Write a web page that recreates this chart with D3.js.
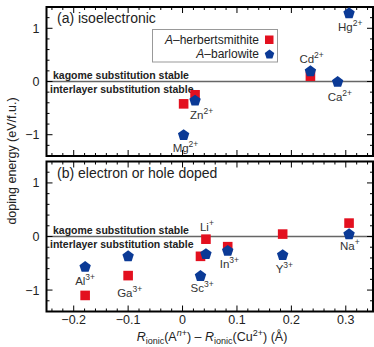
<!DOCTYPE html>
<html>
<head>
<meta charset="utf-8">
<script src="https://cdn.jsdelivr.net/npm/d3@7"></script>
<style>
    body { margin: 0; background: #fff; }
    svg { font-family: "Liberation Sans", Arial, sans-serif; }
</style>
</head>
<body>
<svg id="chart" width="374" height="347"></svg>
<script>
// Panel (a): isoelectronic substitutions
const isoIons = ["Mg", "Zn", "Cd", "Ca", "Hg"];
const isoCharge = ["2+", "2+", "2+", "2+", "2+"];
const isoRadius = [0.002, 0.023, 0.235, 0.285, 0.306];
const isoHerbert = [-0.42, -0.25, 0.10, null, null];
const isoBarlow = [-1.00, -0.35, 0.20, 0.00, 1.29];

// Panel (b): electron or hole doped substitutions
const dopedIons = ["Al", "Ga", "Sc", "Li", "In", "Y", "Na"];
const dopedCharge = ["3+", "3+", "3+", "+", "3+", "3+", "+"];
const dopedRadius = [-0.179, -0.100, 0.033, 0.043, 0.083, 0.184, 0.306];
const dopedHerbert = [-1.10, -0.73, -0.37, -0.05, -0.19, 0.045, 0.25];
const dopedBarlow = [-0.56, -0.36, -0.73, -0.32, -0.26, -0.34, 0.05];

const xTicks = [-0.2, -0.1, 0, 0.1, 0.2, 0.3];
const yTicks = [-1, 0, 1];

const chart = (function () {
    "use strict";

    const svg = d3.select("#chart");
    const left = 46.5, right = 373;
    const red = "#e3101f", blue = "#0b3a96", ink = "#222";

    const x = d3.scaleLinear().domain([-0.25, 0.35]).range([left, right]);

    // where each ion label sits relative to its marker: [dx, dy]
    const labelOffset = {
        Hg: [-11, 18], Cd: [-11, -8], Ca: [-10, 19], Zn: [-5, 19], Mg: [-11, 17],
        Li: [-6, -8], Al: [-10, 18], Ga: [-11, 21], Sc: [-10, 16], In: [-8, 18],
        Y: [-7, 18], Na: [-9, 16]
    };

    function pentagon(r) {
        const pts = d3.range(5).map(i => {
            const a = -Math.PI / 2 + i * 2 * Math.PI / 5;
            return [r * Math.cos(a), r * Math.sin(a)];
        });
        return "M" + pts.join("L") + "Z";
    }

    function fmt(d) {
        return d === 0 ? "0" : (d < 0 ? "\u2212" : "") + Math.abs(d);
    }

    /**
     * Draw one framed panel with its points and annotations.
     */
    function panel(top, bottom, title, ions, charge, radius, herbert, barlow, lead) {
        const y = d3.scaleLinear().domain([-1.4, 1.4]).range([bottom, top]);
        const g = svg.append("g");

        // zero line
        g.append("line")
            .attr("x1", left).attr("x2", right)
            .attr("y1", y(0)).attr("y2", y(0))
            .attr("stroke", "#666").attr("stroke-width", 1.5);

        // ticks on all four sides, pointing inward
        const xMinor = d3.range(-0.24, 0.35, 0.02);
        const yMinor = d3.range(-1.4, 1.41, 0.2);
        const tickG = g.append("g").attr("stroke", "#000").attr("stroke-width", 1);
        xMinor.forEach(v => {
            const major = xTicks.some(t => Math.abs(t - v) < 1e-6);
            const len = major ? 6 : 3;
            tickG.append("line").attr("x1", x(v)).attr("x2", x(v))
                .attr("y1", bottom).attr("y2", bottom - len);
            tickG.append("line").attr("x1", x(v)).attr("x2", x(v))
                .attr("y1", top).attr("y2", top + len);
        });
        yMinor.forEach(v => {
            const major = yTicks.some(t => Math.abs(t - v) < 1e-6);
            const len = major ? 6 : 3;
            tickG.append("line").attr("y1", y(v)).attr("y2", y(v))
                .attr("x1", left).attr("x2", left + len);
            tickG.append("line").attr("y1", y(v)).attr("y2", y(v))
                .attr("x1", right).attr("x2", right - len);
        });

        const yAxis = d3.axisLeft(y).tickValues(yTicks).tickSize(0).tickPadding(7)
            .tickFormat(fmt);
        g.append("g").attr("transform", `translate(${left},0)`).call(yAxis)
            .call(a => a.select(".domain").remove())
            .call(a => a.selectAll("text").attr("font-size", 12.5).attr("fill", ink)
                .attr("font-family", "Liberation Sans, Arial, sans-serif"));

        // frame
        g.append("rect")
            .attr("x", left).attr("y", top)
            .attr("width", right - left).attr("height", bottom - top)
            .attr("fill", "none").attr("stroke", "#000").attr("stroke-width", 2);

        g.append("text").attr("x", 57).attr("y", top + 16)
            .attr("font-size", 14).attr("fill", ink).text(title);

        g.append("text").attr("x", 53).attr("y", y(0) - 3)
            .attr("font-size", 10.5).attr("font-weight", "bold").attr("fill", ink)
            .text("kagome substitution stable");
        g.append("text").attr("x", 50).attr("y", y(0) + 11.5)
            .attr("font-size", 10.5).attr("font-weight", "bold").attr("fill", ink)
            .text("interlayer substitution stable");

        const idx = d3.range(ions.length);
        g.append("g").selectAll("rect")
            .data(idx.filter(i => herbert[i] !== null))
            .join("rect")
            .attr("x", i => x(radius[i]) - 4.8).attr("y", i => y(herbert[i]) - 4.8)
            .attr("width", 9.6).attr("height", 9.6).attr("fill", red);
        g.append("g").selectAll("path")
            .data(idx)
            .join("path")
            .attr("transform", i => `translate(${x(radius[i])},${y(barlow[i]) + 0.5})`)
            .attr("d", pentagon(6)).attr("fill", blue);

        // ion labels
        g.append("g").selectAll("text")
            .data(idx)
            .join("text")
            .attr("x", i => x(radius[i]) + labelOffset[ions[i]][0])
            .attr("y", i => {
                const anchorY = lead[i] === "up" ? herbert[i] : barlow[i];
                return y(anchorY) + labelOffset[ions[i]][1];
            })
            .attr("font-size", 11.5).attr("fill", "#333")
            .each(function (i) {
                const t = d3.select(this);
                t.append("tspan").text(ions[i]);
                t.append("tspan").attr("dy", -5).attr("font-size", 8.5).text(charge[i]);
            });

        return y;
    }

    function init() {
        panel(7, 156, "(a) isoelectronic", isoIons, isoCharge, isoRadius, isoHerbert, isoBarlow,
            ["", "", "", "", ""]);
        panel(161.5, 311.5, "(b) electron or hole doped", dopedIons, dopedCharge, dopedRadius,
            dopedHerbert, dopedBarlow, ["", "up", "", "up", "", "", ""]);

        // x tick labels
        svg.append("g").selectAll("text")
            .data(xTicks)
            .join("text")
            .attr("x", d => x(d)).attr("y", 324)
            .attr("text-anchor", "middle").attr("font-size", 12.5).attr("fill", ink)
            .text(fmt);

        // legend
        const lg = svg.append("g");
        lg.append("rect").attr("x", 152.5).attr("y", 29.5).attr("width", 125).attr("height", 32.5)
            .attr("fill", "#fff").attr("stroke", "#999").attr("stroke-width", 1);
        const entries = [["herbertsmithite", "sq"], ["barlowite", "pent"]];
        entries.forEach((e, k) => {
            const yy = 44 + k * 14;
            const t = lg.append("text").attr("x", 259).attr("y", yy)
                .attr("text-anchor", "end").attr("font-size", 12).attr("fill", ink);
            t.append("tspan").attr("font-style", "italic").text("A");
            t.append("tspan").text("\u2013" + e[0]);
            if (e[1] === "sq") {
                lg.append("rect").attr("x", 265).attr("y", yy - 8.5)
                    .attr("width", 8.5).attr("height", 8.5).attr("fill", red);
            } else {
                lg.append("path").attr("transform", `translate(269.5,${yy - 3.5})`)
                    .attr("d", pentagon(5)).attr("fill", blue);
            }
        });

        // axis titles
        svg.append("text")
            .attr("transform", "translate(16,161) rotate(-90)")
            .attr("text-anchor", "middle").attr("font-size", 12.5).attr("fill", ink)
            .text("doping energy (eV/f.u.)");

        const xl = svg.append("text").attr("x", 212).attr("y", 340.5)
            .attr("text-anchor", "middle").attr("font-size", 12.5).attr("fill", ink);
        xl.append("tspan").attr("font-style", "italic").text("R");
        xl.append("tspan").attr("dy", 3).attr("font-size", 9).text("ionic");
        xl.append("tspan").attr("dy", -3).text("(A");
        xl.append("tspan").attr("dy", -5).attr("font-size", 9).attr("font-style", "italic").text("n");
        xl.append("tspan").attr("font-size", 9).text("+");
        xl.append("tspan").attr("dy", 5).text(") \u2013 ");
        xl.append("tspan").attr("font-style", "italic").text("R");
        xl.append("tspan").attr("dy", 3).attr("font-size", 9).text("ionic");
        xl.append("tspan").attr("dy", -3).text("(Cu");
        xl.append("tspan").attr("dy", -5).attr("font-size", 9).text("2+");
        xl.append("tspan").attr("dy", 5).text(") (\u00c5)");
    }

    return { init: init };
})();

chart.init();
</script>
</body>
</html>
